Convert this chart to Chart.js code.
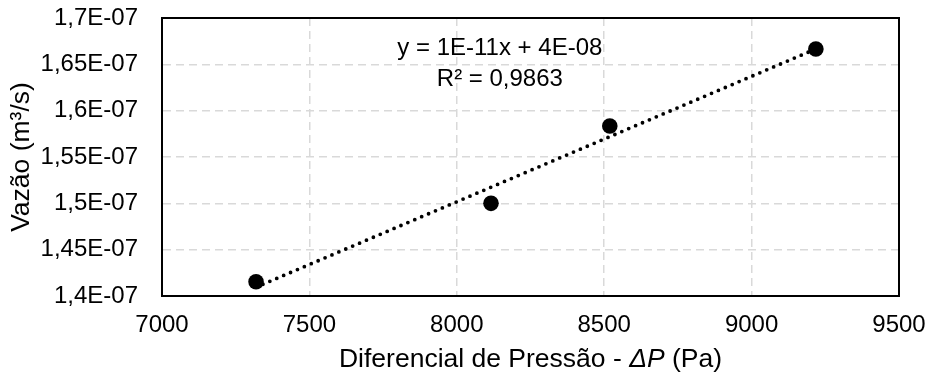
<!DOCTYPE html>
<html>
<head>
<meta charset="utf-8">
<script src="https://cdn.jsdelivr.net/npm/chart.js@4"></script>
<style>
  html, body { margin: 0; padding: 0; background: #fff; }
  #wrap { width: 931px; height: 376px; }
</style>
</head>
<body>
<div id="wrap"><canvas id="grafico"></canvas></div>
<script>
// dados
const pressao = [7319, 8116, 8519, 9218];
const vazao = [1.4154e-7, 1.5000e-7, 1.5835e-7, 1.6666e-7];

// linha de tendência (pontos inicial e final)
const tendenciaX = [7319, 9218];
const tendenciaY = [1.4095e-7, 1.6666e-7];

const xTicks = [7000, 7500, 8000, 8500, 9000, 9500];
const xTickLabels = ["7000", "7500", "8000", "8500", "9000", "9500"];
const yTicks = [1.4e-7, 1.45e-7, 1.5e-7, 1.55e-7, 1.6e-7, 1.65e-7, 1.7e-7];
const yTickLabels = ["1,4E-07", "1,45E-07", "1,5E-07", "1,55E-07", "1,6E-07", "1,65E-07", "1,7E-07"];

const equacao = ["y = 1E-11x + 4E-08", "R² = 0,9863"];
const posEquacao = [8146, 1.6676e-7, 1.634e-7];

// título do eixo x: partes normal / itálico / normal
const tituloX = ["Diferencial de Pressão - ", "ΔP", " (Pa)"];

const fonte = "'Liberation Sans', Arial, sans-serif";

const moldura = {
  id: "moldura",
  afterDraw(chart) {
    const { ctx, chartArea: a } = chart;
    ctx.save();
    ctx.strokeStyle = "#000";
    ctx.lineWidth = 2;
    ctx.strokeRect(a.left, a.top, a.right - a.left, a.bottom - a.top);
    ctx.restore();
  }
};

const textos = {
  id: "textos",
  afterDraw(chart) {
    const { ctx, scales, chartArea: a } = chart;
    ctx.save();
    ctx.fillStyle = "#000";
    ctx.textBaseline = "middle";

    // equação da tendência
    const x = scales.x.getPixelForValue(posEquacao[0]);
    ctx.font = "24px " + fonte;
    ctx.textAlign = "center";
    ctx.fillText(equacao[0], x, scales.y.getPixelForValue(posEquacao[1]));
    ctx.fillText(equacao[1], x, scales.y.getPixelForValue(posEquacao[2]));

    // título do eixo x com P em itálico
    const fN = "26.5px " + fonte, fI = "italic 26.5px " + fonte;
    ctx.textAlign = "left";
    ctx.font = fN;
    const w0 = ctx.measureText(tituloX[0]).width;
    const w2 = ctx.measureText(tituloX[2]).width;
    ctx.font = fI;
    const w1 = ctx.measureText(tituloX[1]).width;
    let px = (a.left + a.right) / 2 - (w0 + w1 + w2) / 2;
    const py = 360;
    ctx.font = fN; ctx.fillText(tituloX[0], px, py); px += w0;
    ctx.font = fI; ctx.fillText(tituloX[1], px, py); px += w1;
    ctx.font = fN; ctx.fillText(tituloX[2], px, py);
    ctx.restore();
  }
};

const ctx = document.getElementById("grafico").getContext("2d");

new Chart(ctx, {
  type: "scatter",
  data: {
    datasets: [
      {
        label: "Tendência",
        type: "line",
        data: tendenciaX.map((x, i) => ({ x: x, y: tendenciaY[i] })),
        borderColor: "#000",
        borderWidth: 3.8,
        borderDash: [0, 7.5],
        borderCapStyle: "round",
        pointRadius: 0,
        fill: false,
        order: 2
      },
      {
        label: "Vazão",
        data: pressao.map((x, i) => ({ x: x, y: vazao[i] })),
        backgroundColor: "#000",
        borderWidth: 0,
        pointRadius: 7.8,
        order: 1
      }
    ]
  },
  options: {
    responsive: true,
    maintainAspectRatio: false,
    animation: false,
    layout: { padding: { top: 18, right: 32, left: 0, bottom: 0 } },
    plugins: {
      legend: { display: false },
      tooltip: { enabled: false }
    },
    scales: {
      x: {
        type: "linear",
        min: 7000,
        max: 9500,
        afterBuildTicks: s => { s.ticks = xTicks.map(v => ({ value: v })); },
        afterFit: s => { s.height = 80; s.paddingLeft = 0; s.paddingRight = 0; },
        ticks: {
          color: "#000",
          font: { family: fonte, size: 24 },
          padding: 15,
          maxRotation: 0,
          callback: (v, i) => xTickLabels[i]
        },
        grid: { color: "#d9d9d9", lineWidth: 1.5, drawTicks: false },
        border: { display: true, color: "#000", width: 2, dash: [8, 5] }
      },
      y: {
        type: "linear",
        min: 1.4e-7,
        max: 1.7e-7,
        afterBuildTicks: s => { s.ticks = yTicks.map(v => ({ value: v })); },
        afterFit: s => { s.width = 162; s.paddingTop = 0; s.paddingBottom = 0; },
        ticks: {
          color: "#000",
          font: { family: fonte, size: 24 },
          padding: 24,
          callback: (v, i) => yTickLabels[i]
        },
        grid: { color: "#d9d9d9", lineWidth: 1.5, drawTicks: false },
        border: { display: true, color: "#000", width: 2, dash: [8, 5] },
        title: {
          display: true,
          text: "Vazão (m³/s)",
          color: "#000",
          font: { family: fonte, size: 26.5 },
          padding: { top: 6, bottom: 0 }
        }
      }
    }
  },
  plugins: [moldura, textos]
});
</script>
</body>
</html>
